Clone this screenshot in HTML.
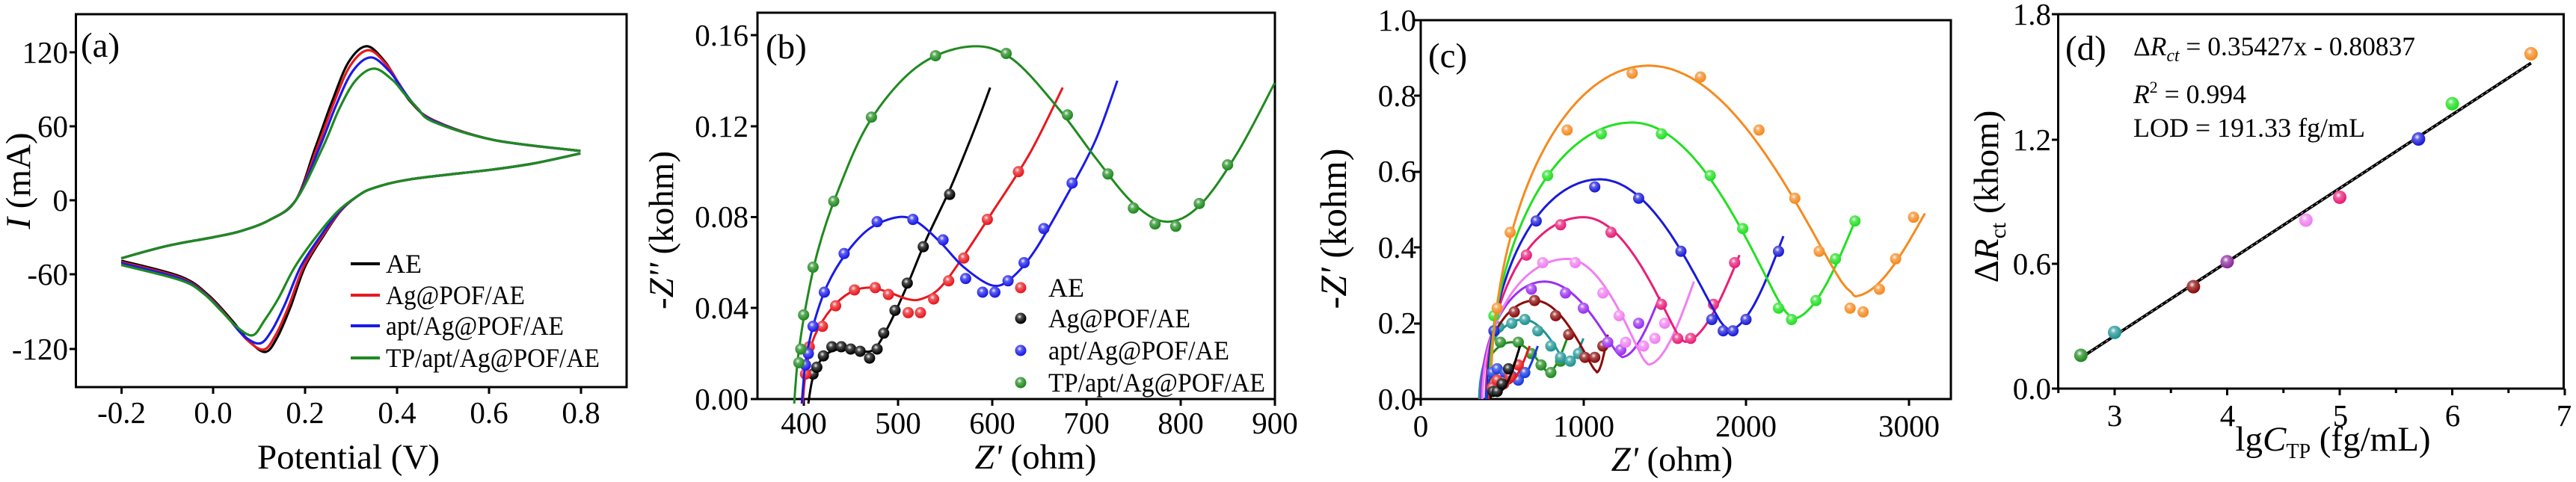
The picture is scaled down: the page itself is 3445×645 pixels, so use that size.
<!DOCTYPE html>
<html><head><meta charset="utf-8"><style>
html,body{margin:0;padding:0;background:#fff;}
svg{display:block;font-family:"Liberation Serif",serif;}
</style></head><body>
<svg id="s" width="3445" height="645" viewBox="0 0 3445 645" xmlns="http://www.w3.org/2000/svg">
<defs>
<radialGradient id="hl" cx="0.4" cy="0.35" r="0.6"><stop offset="0" stop-color="#fff" stop-opacity="0.95"/><stop offset="0.35" stop-color="#fff" stop-opacity="0.3"/><stop offset="1" stop-color="#fff" stop-opacity="0"/></radialGradient>
</defs>
<g id="axes" stroke="#000" stroke-width="3" fill="none">
<rect x="101.5" y="19" width="736.5" height="499"/>
<rect x="1013" y="17" width="692" height="517"/>
<rect x="1900" y="27" width="709" height="507"/>
<rect x="2752.5" y="19" width="676" height="501"/>
</g>
<g id="ticks" stroke="#000" stroke-width="3"></g>
<g id="data"></g>
<g font-size="41" fill="#000">
<g text-anchor="end">
<text x="91" y="84">120</text><text x="91" y="183">60</text><text x="91" y="282">0</text><text x="91" y="381">-60</text><text x="91" y="481">-120</text>
</g>
<g text-anchor="middle">
<text x="162.6" y="566">-0.2</text><text x="285" y="566">0.0</text><text x="408" y="566">0.2</text><text x="531" y="566">0.4</text><text x="654" y="566">0.6</text><text x="777" y="566">0.8</text>
</g>
<g text-anchor="end">
<text x="1001" y="61">0.16</text><text x="1001" y="183">0.12</text><text x="1001" y="304">0.08</text><text x="1001" y="426">0.04</text><text x="1001" y="548">0.00</text>
</g>
<g text-anchor="middle">
<text x="1075" y="580">400</text><text x="1201" y="580">500</text><text x="1327" y="580">600</text><text x="1453" y="580">700</text><text x="1579" y="580">800</text><text x="1705" y="580">900</text>
</g>
<g text-anchor="end">
<text x="1894" y="41">1.0</text><text x="1894" y="142">0.8</text><text x="1894" y="243">0.6</text><text x="1894" y="345">0.4</text><text x="1894" y="446">0.2</text><text x="1894" y="548">0.0</text>
</g>
<g text-anchor="middle">
<text x="1900" y="584">0</text><text x="2118" y="584">1000</text><text x="2335" y="584">2000</text><text x="2553" y="584">3000</text>
</g>
<g text-anchor="end">
<text x="2743" y="33">1.8</text><text x="2743" y="201">1.2</text><text x="2743" y="367">0.6</text><text x="2743" y="534">0.0</text>
</g>
<g text-anchor="middle">
<text x="2828" y="570">3</text><text x="2979" y="570">4</text><text x="3130" y="570">5</text><text x="3280" y="570">6</text><text x="3429" y="570">7</text>
</g>
</g>
<g font-size="47" fill="#000">
<text x="466" y="627" text-anchor="middle">Potential (V)</text>
<text transform="translate(40,242) rotate(-90)" text-anchor="middle"><tspan font-style="italic">I</tspan> (mA)</text>
<text x="1385" y="627" text-anchor="middle"><tspan font-style="italic">Z'</tspan> (ohm)</text>
<text transform="translate(900,308) rotate(-90)" text-anchor="middle">-<tspan font-style="italic">Z''</tspan> (kohm)</text>
<text x="2236" y="630" text-anchor="middle"><tspan font-style="italic">Z'</tspan> (ohm)</text>
<text transform="translate(1800,306) rotate(-90)" text-anchor="middle" font-size="50">-<tspan font-style="italic">Z'</tspan> (kohm)</text>
<text x="3120" y="603" text-anchor="middle">lg<tspan font-style="italic">C</tspan><tspan font-size="28" dy="10">TP</tspan><tspan dy="-10"> (fg/mL)</tspan></text>
<text transform="translate(2672,263) rotate(-90)" text-anchor="middle">Δ<tspan font-style="italic">R</tspan><tspan font-size="30" dy="10">ct</tspan><tspan dy="-10"> (khom)</tspan></text>
</g>
<g font-size="47" fill="#000">
<text x="108" y="76">(a)</text>
<text x="1024" y="78">(b)</text>
<text x="1910" y="90">(c)</text>
<text x="2762" y="80">(d)</text>
</g>
<g font-size="36" fill="#000">
<text x="516" y="365">AE</text>
<text x="516" y="407" textLength="186" lengthAdjust="spacingAndGlyphs">Ag@POF/AE</text>
<text x="516" y="448" textLength="238" lengthAdjust="spacingAndGlyphs">apt/Ag@POF/AE</text>
<text x="516" y="491" textLength="286" lengthAdjust="spacingAndGlyphs">TP/apt/Ag@POF/AE</text>
</g>
<g stroke-width="4">
<line x1="469" y1="353" x2="508" y2="353" stroke="#000"/>
<line x1="469" y1="395" x2="508" y2="395" stroke="#e8181e"/>
<line x1="469" y1="436" x2="508" y2="436" stroke="#1a1ae8"/>
<line x1="469" y1="479" x2="508" y2="479" stroke="#1f8a1f"/>
</g>
<g font-size="36" fill="#000">
<text x="1402" y="397">AE</text>
<text x="1402" y="438" textLength="190" lengthAdjust="spacingAndGlyphs">Ag@POF/AE</text>
<text x="1402" y="481" textLength="242" lengthAdjust="spacingAndGlyphs">apt/Ag@POF/AE</text>
<text x="1402" y="524" textLength="290" lengthAdjust="spacingAndGlyphs">TP/apt/Ag@POF/AE</text>
</g>
<g font-size="36" fill="#000">
<text x="2853" y="74" textLength="377" lengthAdjust="spacingAndGlyphs">Δ<tspan font-style="italic">R</tspan><tspan font-size="24" dy="8" font-style="italic">ct</tspan><tspan dy="-8"> = 0.35427x - 0.80837</tspan></text>
<text x="2853" y="138" textLength="151" lengthAdjust="spacingAndGlyphs"><tspan font-style="italic">R</tspan><tspan font-size="22" dy="-14">2</tspan><tspan dy="14"> = 0.994</tspan></text>
<text x="2853" y="183" textLength="310" lengthAdjust="spacingAndGlyphs">LOD = 191.33 fg/mL</text>
</g>
</svg>
<script>
(function(){
var NS="http://www.w3.org/2000/svg";
var data=document.getElementById('data'), ticks=document.getElementById('ticks');
function el(n,a,p){var e=document.createElementNS(NS,n);for(var k in a)e.setAttribute(k,a[k]);(p||data).appendChild(e);return e;}
function sp(pts){var d="M"+pts[0][0].toFixed(1)+","+pts[0][1].toFixed(1);
for(var i=0;i<pts.length-1;i++){var p0=pts[i-1]||pts[i],p1=pts[i],p2=pts[i+1],p3=pts[i+2]||p2;
var c1=[p1[0]+(p2[0]-p0[0])/6,p1[1]+(p2[1]-p0[1])/6],c2=[p2[0]-(p3[0]-p1[0])/6,p2[1]-(p3[1]-p1[1])/6];
d+="C"+c1[0].toFixed(1)+","+c1[1].toFixed(1)+" "+c2[0].toFixed(1)+","+c2[1].toFixed(1)+" "+p2[0].toFixed(1)+","+p2[1].toFixed(1);}
return d;}
function pl(pts){return "M"+pts.map(function(p){return p[0].toFixed(1)+","+p[1].toFixed(1);}).join("L");}
function line(x1,y1,x2,y2){el('line',{x1:x1,y1:y1,x2:x2,y2:y2},ticks);}
function ball(x,y,c,r){el('circle',{cx:x,cy:y,r:r,fill:c});el('circle',{cx:x,cy:y,r:r,fill:'url(#hl)'});}
[70,169,268,367,467].forEach(function(y){line(93,y,101.5,y);});
[162.6,285,408,531,654,777].forEach(function(x){line(x,518,x,527);});
[47,169,290.5,412,534].forEach(function(y){line(1004,y,1013,y);});
[1075,1201,1327,1453,1579,1705].forEach(function(x){line(x,534,x,543);});
[27,128,230,331,433,534].forEach(function(y){line(1891,y,1900,y);});
[1900,2118,2335,2553].forEach(function(x){line(x,534,x,543);});
[19,187,353,520].forEach(function(y){line(2744,y,2752.5,y);});
for(var v=2.5;v<=7.01;v+=0.5){var x=2828+(v-3)*150.5;line(x,520,x,(Math.abs(v-Math.round(v))<0.01)?529:526);}
// panel a
function XA(E){return 285+E*614;} function YA(I){return 268-I*99/60;}
var up=[[-0.2,-47],[-0.1,-37],[0,-30],[0.06,-25],[0.123,-16],[0.18,0],[0.223,43],[0.259,80],[0.295,112],[0.335,125],[0.375,112],[0.4,97],[0.43,80],[0.48,65],[0.61,49],[0.8,40]];
var lo=[[0.8,38],[0.7,30],[0.61,25],[0.43,17],[0.35,10],[0.313,3],[0.277,-9],[0.24,-29],[0.2,-54],[0.168,-87],[0.14,-111],[0.114,-123],[0.078,-114],[0.04,-97],[-0.01,-77],[-0.07,-62],[-0.2,-49]];
var va=[["#000",1,0,1,0,0],["#e8181e",0.95,0.004,0.97,-0.004,-1],["#1a1ae8",0.86,0.009,0.89,-0.012,-2],["#1f8a1f",0.72,0.016,0.73,-0.028,-3.5]];
va.forEach(function(v){
 var u=up.map(function(p){var I=p[1],E=p[0];if(I>60){I=60+(I-60)*v[1];}if(E>0.2&&E<0.45)E+=v[2];return [XA(E),YA(I)];});
 var l=lo.map(function(p){var I=p[1],E=p[0];if(I<-60){I=-60+(I+60)*v[3];}
   if(E>-0.05&&E<0.3){E+=v[4]*Math.sin(Math.PI*(E+0.05)/0.35);}
   if(E<0.1)I+=v[5];return [XA(E),YA(I)];});
 el('path',{d:sp(u),stroke:v[0],'stroke-width':3.2,fill:'none'});
 el('path',{d:sp(l),stroke:v[0],'stroke-width':3.2,fill:'none'});
});
// panel b
function XB(z){return 1074.7+(z-400)*1.26;} function YB(v){return 534-v*3042.5;}
var bs=[
 {c:"#000",cur:[[405,-0.002],[409,0.008],[415,0.015],[425,0.020],[440,0.022],[460,0.021],[475,0.022],[490,0.032],[510,0.050],[530,0.070],[555,0.092],[575,0.112],[590,0.128],[598,0.137]],
  pts:[[410,0.011],[414,0.014],[421,0.019],[430,0.023],[440,0.023],[450,0.022],[460,0.021],[470,0.018],[478,0.022],[485,0.029],[497,0.039],[510,0.051],[527,0.067],[555,0.090]]},
 {c:"#e8181e",cur:[[399,-0.002],[403,0.014],[412,0.028],[430,0.040],[450,0.047],[470,0.049],[490,0.047],[510,0.044],[525,0.044],[545,0.049],[570,0.063],[600,0.082],[640,0.108],[675,0.137]],
  pts:[[402,0.011],[406,0.023],[420,0.032],[434,0.041],[454,0.048],[476,0.049],[490,0.046],[511,0.038],[524,0.038],[538,0.044],[554,0.052],[570,0.062],[595,0.079],[628,0.100]]},
 {c:"#1a1ae8",cur:[[398,-0.002],[402,0.016],[410,0.032],[425,0.050],[445,0.064],[470,0.075],[500,0.080],[520,0.078],[545,0.069],[570,0.058],[600,0.050],[620,0.053],[645,0.065],[680,0.090],[710,0.114],[733,0.140]],
  pts:[[402,0.015],[405,0.020],[410,0.032],[422,0.047],[443,0.064],[478,0.078],[516,0.079],[548,0.070],[572,0.053],[590,0.047],[603,0.047],[617,0.052],[634,0.060],[655,0.075],[685,0.095]]},
 {c:"#1f8a1f",cur:[[390,-0.002],[394,0.018],[402,0.040],[415,0.065],[435,0.090],[470,0.122],[520,0.146],[575,0.155],[620,0.150],[670,0.128],[710,0.106],[750,0.086],[785,0.078],[820,0.085],[860,0.108],[900,0.139]],
  pts:[[395,0.016],[397,0.022],[400,0.037],[410,0.058],[432,0.087],[472,0.124],[540,0.151],[615,0.152],[680,0.125],[723,0.099],[750,0.084],[773,0.077],[795,0.076],[820,0.086],[850,0.103]]}
];
bs.forEach(function(s){
 el('path',{d:sp(s.cur.map(function(p){return [XB(p[0]),YB(p[1])];})),stroke:s.c,'stroke-width':3,fill:'none'});
 s.pts.forEach(function(p){ball(XB(p[0]),YB(p[1]),s.c,7.5);});
});
ball(1365,385,"#e8181e",7.5);ball(1365,426,"#000",7.5);ball(1365,469,"#1a1ae8",7.5);ball(1365,512,"#1f8a1f",7.5);
// panel c
function XC(z){return 1900+z*0.2175;} function YC(v){return 534-v*507;}
var cs=[
 ["#1f8a1f",360,560,0.15,780,0.07,900,0.16,[[490,0.15],[600,0.15],[680,0.12],[740,0.09],[800,0.07],[860,0.10]]],
 ["#1f9494",360,630,0.21,900,0.09,1000,0.16,[[480,0.19],[560,0.20],[640,0.21],[720,0.18],[800,0.14],[860,0.11],[920,0.10],[970,0.12]]],
 ["#8b0b0b",370,700,0.26,1080,0.07,1150,0.17,[[575,0.23],[700,0.26],[830,0.22],[910,0.17],[1010,0.11],[1070,0.11],[1120,0.14]]],
 ["#9b30f0",370,760,0.31,1230,0.11,1470,0.27,[[680,0.29],[890,0.28],[1000,0.24],[1150,0.15],[1230,0.13],[1340,0.20]]],
 ["#f07ff0",380,900,0.37,1390,0.09,1680,0.31,[[750,0.36],[950,0.36],[1120,0.28],[1220,0.22],[1260,0.15],[1370,0.14],[1440,0.16],[1500,0.20]]],
 ["#e81e78",400,1000,0.48,1610,0.15,1960,0.38,[[650,0.38],[860,0.46],[1170,0.44],[1480,0.25],[1580,0.16],[1660,0.16],[1800,0.25],[1930,0.36]]],
 ["#1a1ad8",410,1100,0.58,1880,0.18,2230,0.43,[[450,0.18],[710,0.47],[1070,0.56],[1340,0.53],[1600,0.39],[1790,0.21],[1860,0.18],[1920,0.18],[2000,0.21],[2200,0.39]]],
 ["#22e022",420,1300,0.73,2270,0.21,2680,0.48,[[450,0.22],[780,0.59],[1110,0.70],[1480,0.70],[1780,0.59],[1980,0.45],[2200,0.24],[2280,0.21],[2430,0.26],[2550,0.37],[2670,0.47]]],
 ["#f58a1f",430,1400,0.88,2650,0.27,3100,0.49,[[470,0.24],[550,0.44],[900,0.71],[1300,0.86],[1720,0.85],[2080,0.71],[2300,0.53],[2450,0.39],[2640,0.24],[2720,0.23],[2820,0.29],[2920,0.37],[3030,0.48]]],
 ["#1a3ae0",400,500,0.08,600,0.05,720,0.14,[[440,0.07],[470,0.08],[520,0.07],[560,0.06],[600,0.05],[640,0.07]]],
 ["#e8181e",420,470,0.05,530,0.04,670,0.14,[[440,0.03],[470,0.05],[510,0.04],[550,0.06],[600,0.09]]],
 ["#000",430,450,0.025,480,0.02,610,0.14,[[445,0.02],[470,0.02],[500,0.04],[540,0.08]]]
];
cs.forEach(function(s){
 var x0=s[1],xp=s[2],hp=s[3],xm=s[4],hm=s[5],xe=s[6],he=s[7];
 var RL=xp-x0, pts=[], i, N=40;
 for(i=0;i<=N;i++){var f=i/N*Math.PI/2;pts.push([xp-RL*Math.cos(f),hp*Math.sin(f)]);}
 for(i=1;i<=N;i++){var u=i/N;var y=hm+(hp-hm)*Math.pow(Math.max(0,1-u*u),1.2);pts.push([xp+(xm-xp)*u,y]);}
 // smooth the min a bit
 for(i=1;i<=N;i++){var u2=i/N;pts.push([xm+(xe-xm)*u2,hm+(he-hm)*(1-Math.cos(Math.PI/2*u2))]);}
 // blend the sharp corner at min
 var sm=pts.map(function(p,k){if(k>2&&k<pts.length-3&&k>2*N-6&&k<2*N+6){var a=pts[k-2],b=pts[k-1],c=pts[k+1],d=pts[k+2];return [p[0],(a[1]+b[1]+p[1]+c[1]+d[1])/5];}return p;});
 el('path',{d:pl(sm.map(function(p){return [XC(p[0]),YC(p[1])];})),stroke:s[0],'stroke-width':3,fill:'none','stroke-linejoin':'round'});
 s[8].forEach(function(p){ball(XC(p[0]),YC(p[1]),s[0],7.5);});
});
// panel d
function XD(x){return 2828+(x-3)*150.5;} function YD(v){return 520-v*278.3;}
el('line',{x1:XD(2.7),y1:YD(0.35427*2.7-0.80837),x2:XD(6.7),y2:YD(0.35427*6.7-0.80837),stroke:'#000','stroke-width':4});
el('line',{x1:XD(2.7),y1:YD(0.35427*2.7-0.80837),x2:XD(6.7),y2:YD(0.35427*6.7-0.80837),stroke:'#bbb','stroke-width':1.2,'stroke-dasharray':'3 5'});
[[2.7,0.16,"#1f8a1f"],[3.0,0.27,"#1f9494"],[3.7,0.49,"#8b0b0b"],[4.0,0.61,"#8a2a9a"],[4.7,0.81,"#f07ff0"],[5.0,0.92,"#e81e78"],[5.7,1.20,"#1a1ad8"],[6.0,1.37,"#22e022"],[6.7,1.61,"#f58a1f"]].forEach(function(p){ball(XD(p[0]),YD(p[1]),p[2],9);});
})();
</script>
</body></html>
